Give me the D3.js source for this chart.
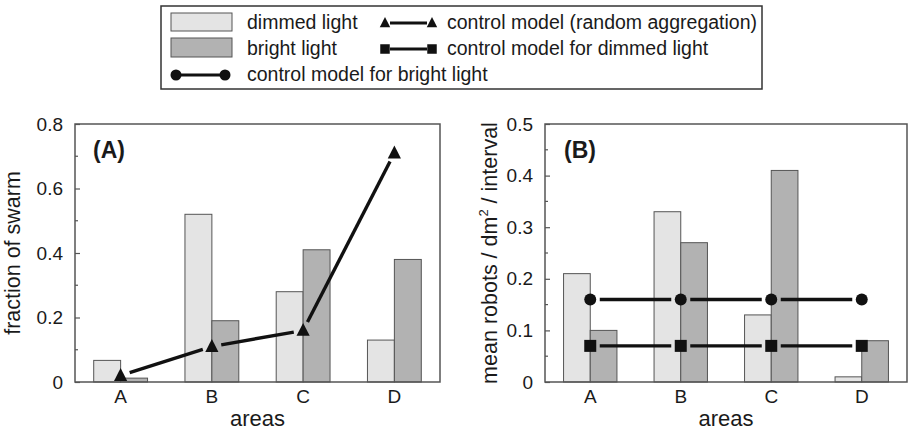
<!DOCTYPE html>
<html><head><meta charset="utf-8">
<script src="https://cdn.jsdelivr.net/npm/d3@7"></script>
<style>
html,body{margin:0;padding:0;background:#fff;}
text{font-family:"Liberation Sans",Arial,sans-serif;fill:#1a1a1a;}
</style></head>
<body><svg id="chart" width="909" height="432"></svg>
<script>
const areas = ["A","B","C","D"];
// Panel A: fraction of swarm
const fracDimmed = [0.067, 0.52, 0.28, 0.13];
const fracBright = [0.012, 0.19, 0.41, 0.38];
const fracRandom = [0.02, 0.11, 0.16, 0.71];
const fracTicks = [0, 0.2, 0.4, 0.6, 0.8];
// Panel B: mean robots / dm² / interval
const meanDimmed = [0.21, 0.33, 0.13, 0.01];
const meanBright = [0.10, 0.27, 0.41, 0.08];
const ctrlBright = [0.16, 0.16, 0.16, 0.16];
const ctrlDimmed = [0.07, 0.07, 0.07, 0.07];
const meanTicks = [0, 0.1, 0.2, 0.3, 0.4, 0.5];

const svg = d3.select("#chart");
const DIM = "#e4e4e4", BRI = "#b2b2b2", EDGE = "#555", FRAME = "#555";

function marker(g, type, x, y, s) {
  if (type === "tri") {
    g.append("path").attr("d", `M${x},${y - s*0.62}L${x + s*0.55},${y + s*0.45}L${x - s*0.55},${y + s*0.45}Z`).attr("fill", "#111");
  } else if (type === "sq") {
    g.append("rect").attr("x", x - s/2).attr("y", y - s/2).attr("width", s).attr("height", s).attr("fill", "#111");
  } else {
    g.append("circle").attr("cx", x).attr("cy", y).attr("r", s/2).attr("fill", "#111");
  }
}

function gappedLine(g, pts, gap, width) {
  for (let i = 0; i < pts.length - 1; i++) {
    const [x1, y1] = pts[i], [x2, y2] = pts[i+1];
    const dx = x2 - x1, dy = y2 - y1, L = Math.hypot(dx, dy);
    const ux = dx / L, uy = dy / L;
    g.append("line")
      .attr("x1", x1 + ux*gap).attr("y1", y1 + uy*gap)
      .attr("x2", x2 - ux*gap).attr("y2", y2 - uy*gap)
      .attr("stroke", "#111").attr("stroke-width", width);
  }
}

function panel(opts) {
  const {left, right, top, bottom, max, ticks, minorStep, dimmed, bright, series, label, ytitle, ytitleX, labelX} = opts;
  const g = svg.append("g");
  const x = d3.scaleBand().domain(areas).range([left, right]).padding(0);
  const y = d3.scaleLinear().domain([0, max]).range([bottom, top]);
  const bw = x.bandwidth() * 0.295;

  // bars
  g.selectAll(".bd").data(areas).join("rect")
    .attr("x", d => x(d) + x.bandwidth()/2 - bw)
    .attr("y", (d, i) => y(dimmed[i]))
    .attr("width", bw).attr("height", (d, i) => y(0) - y(dimmed[i]))
    .attr("fill", DIM).attr("stroke", EDGE).attr("stroke-width", 1);
  g.selectAll(".bb").data(areas).join("rect")
    .attr("x", d => x(d) + x.bandwidth()/2)
    .attr("y", (d, i) => y(bright[i]))
    .attr("width", bw).attr("height", (d, i) => y(0) - y(bright[i]))
    .attr("fill", BRI).attr("stroke", EDGE).attr("stroke-width", 1);

  // frame
  g.append("rect").attr("x", left).attr("y", top).attr("width", right - left).attr("height", bottom - top)
    .attr("fill", "none").attr("stroke", FRAME).attr("stroke-width", 1.5);

  // y axis (ticks inward)
  const yAxis = d3.axisLeft(y).tickValues(ticks).tickSize(-5).tickPadding(12)
    .tickFormat(d => d === 0 ? "0" : d3.format(".1f")(d));
  const ya = g.append("g").attr("transform", `translate(${left},0)`).call(yAxis);
  ya.select(".domain").remove();
  ya.selectAll(".tick line").attr("stroke", FRAME).attr("stroke-width", 1.2);
  ya.selectAll(".tick text").attr("font-size", 19).attr("fill", "#1a1a1a")
    .attr("font-family", '"Liberation Sans",Arial,sans-serif');
  const minor = d3.range(minorStep, max, minorStep * 2);
  g.selectAll(".mn").data(minor).join("line")
    .attr("x1", left).attr("x2", left + 3)
    .attr("y1", d => y(d)).attr("y2", d => y(d))
    .attr("stroke", FRAME).attr("stroke-width", 1.2);

  // x axis labels
  const xAxis = d3.axisBottom(x).tickSize(0).tickPadding(8);
  const xa = g.append("g").attr("transform", `translate(0,${bottom})`).call(xAxis);
  xa.select(".domain").remove();
  xa.selectAll(".tick text").attr("font-size", 19).attr("fill", "#1a1a1a")
    .attr("font-family", '"Liberation Sans",Arial,sans-serif');

  g.append("text").attr("x", (left + right)/2).attr("y", 426).attr("text-anchor", "middle")
    .attr("font-size", 22).text("areas");

  // y title
  const yt = g.append("text").attr("transform", `translate(${ytitleX},${(top + bottom)/2}) rotate(-90)`)
    .attr("text-anchor", "middle").attr("font-size", 21.5);
  ytitle(yt);

  // panel label
  g.append("text").attr("x", labelX).attr("y", 158).attr("font-size", 23).attr("font-weight", "bold").text(label);

  // series
  series.forEach(s => {
    const pts = s.values.map((v, i) => [x(areas[i]) + x.bandwidth()/2, y(v)]);
    gappedLine(g, pts, 9.5, 3.4);
    pts.forEach(p => marker(g, s.type, p[0], p[1], 12));
  });
}

panel({left: 75, right: 440, top: 124, bottom: 382, max: 0.8, ticks: fracTicks, minorStep: 0.1,
  dimmed: fracDimmed, bright: fracBright, label: "(A)", labelX: 93, ytitleX: 20,
  ytitle: t => t.text("fraction of swarm"),
  series: [{values: fracRandom, type: "tri"}]});

panel({left: 545, right: 907, top: 124, bottom: 382, max: 0.5, ticks: meanTicks, minorStep: 0.05,
  dimmed: meanDimmed, bright: meanBright, label: "(B)", labelX: 564, ytitleX: 497,
  ytitle: t => { t.append("tspan").text("mean robots / dm");
                 t.append("tspan").attr("font-size", 13).attr("dy", -9).text("2");
                 t.append("tspan").attr("dy", 9).text(" / interval"); },
  series: [{values: ctrlBright, type: "circ"}, {values: ctrlDimmed, type: "sq"}]});

// legend
const lg = svg.append("g");
lg.append("rect").attr("x", 161).attr("y", 6).attr("width", 601).attr("height", 83)
  .attr("fill", "#fff").attr("stroke", "#333").attr("stroke-width", 1.5);
const LF = 19.5;
lg.append("rect").attr("x", 171).attr("y", 13).attr("width", 61).attr("height", 18).attr("fill", DIM).attr("stroke", EDGE);
lg.append("rect").attr("x", 171).attr("y", 38).attr("width", 61).attr("height", 19).attr("fill", BRI).attr("stroke", EDGE);
lg.append("text").attr("x", 247).attr("y", 29).attr("font-size", LF).text("dimmed light");
lg.append("text").attr("x", 247).attr("y", 55).attr("font-size", LF).text("bright light");
lg.append("text").attr("x", 247).attr("y", 81).attr("font-size", LF).text("control model for bright light");
lg.append("text").attr("x", 447).attr("y", 29).attr("font-size", LF).text("control model (random aggregation)");
lg.append("text").attr("x", 447).attr("y", 55).attr("font-size", LF).text("control model for dimmed light");
[[385, 432, 23, "tri"], [385, 432, 49, "sq"], [176, 225, 75, "circ"]].forEach(([a, b, yy, t]) => {
  lg.append("line").attr("x1", a + 5).attr("x2", b - 5).attr("y1", yy).attr("y2", yy).attr("stroke", "#111").attr("stroke-width", 3);
  marker(lg, t, a, yy, t === "circ" ? 11 : 9.5);
  marker(lg, t, b, yy, t === "circ" ? 11 : 9.5);
});
</script>
</body></html>
